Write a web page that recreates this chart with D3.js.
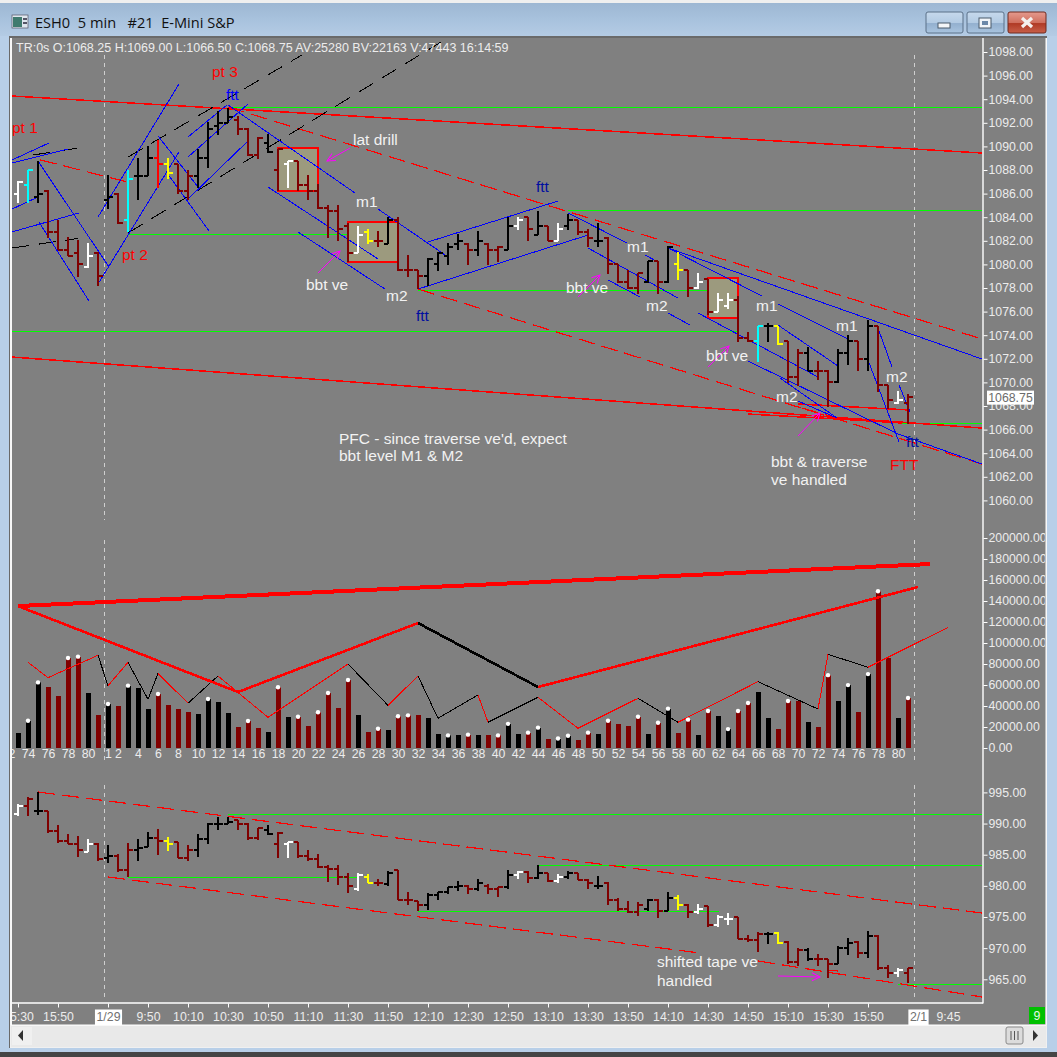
<!DOCTYPE html>
<html><head><meta charset="utf-8">
<script src="https://cdn.jsdelivr.net/npm/d3@7"></script>
<style>html,body{margin:0;padding:0;background:#444;overflow:hidden}svg{display:block}</style>
</head><body><svg id="c" width="1057" height="1057"></svg>
<script>
// ---------- Upper panel: price bars (first bar is #73 of the previous session)
const barColors = ["w","c","k","d","d","d","d","w","d","k","d","c","k","k","r","y","d","d","k","k","k","k","d","d","d","k","d","w","d","d","d","d","d","d",
"w","y","d","k","d","d","d","k","k","k","k","d","k","d","d","k","w","d","k","d","w","k","d","d","k","d","d","d","d","k","d","k","y",
"d","w","d","w","w","d","d","c","k","y","d","d","k","d","d","k","k","d","k","d","d","w","d"];
const priceOpen = [1086,1086.75,1085.75,1086.25,1082.75,1081.25,1081,1079.75,1081,1085.5,1086,1083.75,1087.5,1087.5,1089,1088.5,1088.5,1086.25,1087.5,1089,1091.75,1092,1092.25,1091.5,1089.25,1090.25,1088,1088.5,1088.75,1086.75,1086.25,1084.75,1084.5,1083.25,
1081,1082.75,1082,1081.75,1083.75,1079.5,1079.5,1079,1080,1080.75,1081.75,1081.75,1081.25,1081.75,1081.25,1081.25,1083.25,1084,1082.5,1083.25,1082,1083.25,1083.75,1082.75,1082,1082.25,1080,1078.5,1078,1078.5,1080.25,1078.5,1080,
1079.5,1078,1078.75,1076,1076.5,1077,1073.75,1073.5,1074.75,1074.75,1073.5,1070.5,1072.5,1071,1071,1070,1072.5,1073.5,1072,1074.75,1069.75,1068.25,1068.25];
const priceHigh = [1087,1088,1088.75,1086.25,1083.75,1082.25,1082,1081.75,1081,1087.5,1086,1088,1089,1090,1090.5,1089,1088.5,1088,1089.75,1092,1093,1093.25,1092.5,1091.5,1090.75,1091,1089.75,1088.75,1088.75,1087.5,1086.75,1085,1085,1083.5,
1083.25,1083,1082.75,1084,1084,1080.75,1079.5,1080.5,1081,1081.75,1082.5,1081.75,1082.75,1081.75,1081.5,1084,1084,1084,1084.5,1083.25,1083.5,1084.25,1083.75,1083,1083.5,1082.25,1080,1079.5,1079.25,1080.25,1080.25,1081.5,1081,
1079.5,1079.25,1078.75,1077.5,1077.5,1077.25,1074.25,1074.75,1075,1074.75,1073.5,1072.75,1073,1071.75,1071,1072.75,1074,1073.5,1075.25,1074.75,1069.75,1069.25,1069];
const priceLow = [1085.25,1085.25,1085.25,1082.25,1081.25,1080.75,1079,1079.75,1078.25,1084.75,1083.5,1082.75,1085.5,1087.5,1086.5,1087.25,1086,1085.5,1086.5,1088.25,1091,1092,1091,1089.25,1089,1089.5,1086.25,1086.5,1086.25,1085.5,1084.75,1082.25,1082,1080.25,
1081,1081.75,1081.5,1081.75,1079.5,1079,1078,1078.25,1079.5,1080,1081.25,1080,1080.75,1080,1080.25,1081.25,1083,1082,1082.5,1082,1082,1083,1082.5,1081.5,1081.5,1079.25,1078.5,1078,1077.5,1078.5,1077.5,1078.5,1078.75,
1077.25,1078,1075.75,1076,1076.25,1073.5,1073.5,1071.75,1073.5,1073.25,1070,1069.75,1071,1070.25,1068,1070,1071.5,1071,1071,1069.25,1067.75,1068.25,1066.5];
const priceClose = [1087,1088,1086,1082.75,1081.25,1080.75,1080,1080.75,1079,1085.75,1083.5,1087.25,1087.5,1089,1088.5,1087.75,1086.25,1087.5,1089,1091.5,1092,1092.5,1091.5,1089.25,1090.75,1089.5,1089.75,1088.75,1086.75,1086.25,1084.75,1084.5,1083,1081,
1082.5,1082,1082,1083.75,1079.5,1079.5,1079,1080.5,1081,1081.5,1082,1081.25,1082,1081.25,1081.5,1083.25,1083.75,1083,1083.25,1082,1083,1083.75,1082.75,1082.25,1082,1080,1078.5,1078,1079.25,1080.25,1078.5,1081.5,1079.5,
1078,1078.5,1076,1077,1077,1073.75,1073.5,1074.75,1074.75,1073.25,1070.5,1072.5,1071,1071,1070,1072.5,1073.5,1072,1074.75,1069.75,1068.5,1068.5,1068.75];

// ---------- Middle panel: volume
const volume = [14600,26000,62500,57800,49800,85700,87000,52700,31700,41900,40300,59400,57500,37500,51400,41300,37500,34600,32700,46700,44100,33700,20300,25700,19400,15600,57800,29800,29800,21300,34000,52400,38400,64800,
31100,15000,18400,17000,30200,31100,31100,28900,13000,12000,12000,12700,12000,12000,12000,23000,13000,14600,19400,9000,9000,11700,7500,14600,13000,26000,23000,21300,29800,13000,24100,37500,14600,27000,12000,
35200,30400,18000,35200,42800,53300,28500,18000,44700,44700,24700,20000,69400,44700,59900,34200,70400,149300,85600,28500,47600];
const volumeColors = ["k","k","k","d","d","d","d","k","d","k","d","k","k","k","d","d","d","d","k","k","k","k","d","d","d","k","d","k","d","d","d","d","d","d",
"k","d","d","k","d","d","d","k","k","k","k","d","k","d","d","k","k","d","k","d","k","k","d","d","k","d","d","d","d","k","d","k","d","d","k",
"d","k","k","d","d","k","k","d","d","d","k","d","d","k","k","d","k","d","d","k","d"];
const volumeDots = [1,2,5,6,9,11,14,19,23,26,28,30,31,33,36,38,39,43,45,48,49,51,52,54,55,57,59,62,64,65,67,69,71,72,73,77,81,83,85,86,89];
const volSwingBars = [1,3,8,9,11,13,14,17,20,25,33,37,40,42,46,47,52,56,62,66,74,80,81,85,93];
const volSwingVals = [81600,67000,88300,59300,81600,46400,71100,42600,68600,29200,80000,40600,68600,28300,50500,24500,48300,18800,47300,24500,63200,37100,89200,76900,114900];
const volSwingColors = ["r","r","k","r","k","k","r","k","r","r","k","r","k","k","r","k","r","r","k","r","k","r","k","r"];
const volTrendBars = [[0,91.2],[0,22],[22,40],[40,52],[52,90]];
const volTrendVals = [[135200,175200],[135200,53300],[53300,119000],[119000,58100],[58100,153300]];
const volTrendColors = ["r","r","r","k","r"];
const volTrendWidths = [4,2.6,2.6,2.6,2.6];

// ---------- Lower panel: shifted tape
const tapeColors = ["w","d","k","d","d","d","d","w","d","k","d","d","k","k","d","y","d","d","k","k","k","k","d","d","d","k","d","w","d","d","d","d","d","d",
"w","y","d","k","d","d","d","k","k","k","k","d","k","d","d","k","w","d","k","d","w","k","d","d","k","d","d","d","d","k","d","k","y",
"d","w","d","w","w","d","d","d","k","y","d","d","k","d","d","k","k","d","k","d","d","w","d"];
const tapeOpen = [991.5,992.75,992,992,988.75,987.25,986.75,985.5,986.75,984.5,984.75,982.5,985.75,986.25,987.75,987.25,987,984.5,985.75,987.5,990,990,990.5,990,987.75,989,986.75,986.75,987,984.75,984.25,983,982.75,981.5,
979.5,981.5,980.5,980.25,982.5,977.75,977.5,977,978.5,979,979.75,980,979.5,980,979.5,979.75,981.75,982.25,981.25,982,980.75,981.5,982,981,980,980.5,977.75,976.25,975.75,976.25,977.75,976,978,
977,975.75,976.75,973.75,974.75,975,971.5,971.25,972.25,972.5,971,967.75,969.75,968.25,968.25,967.5,970,971,969.25,972,966.75,966,966];
const tapeHigh = [993,994.25,995,992,989.75,988.25,988,987.5,986.75,986.5,985,986.75,987.5,988.5,989,987.75,987,986.5,988.25,990,991,991,990.5,990,989.25,989.75,988.5,987,987,985.75,985,983.25,983.25,982,
982,981.75,981,982.25,982.5,979,977.5,978.75,979,979.75,980.75,980,981,980.25,979.75,982.5,982.25,982.25,983.25,982,981.75,982.25,982,981,981.5,980.5,978,977.5,977.25,977.75,977.75,979,978.5,
977,977,976.75,975.25,975.5,975,972,972.5,972.5,972.5,971,970,970,969,968.25,970.25,971.5,971,972.75,972,967.25,966.75,966.75];
const tapeLow = [991.25,991.25,991.5,988.5,987,986.75,984.75,985.5,984,983.75,982.25,981.5,984,986.25,985,985.75,984.5,984,984.75,986.75,989,990,989,987.5,987.5,988.25,984.5,984.5,984.5,984,983,980.75,980.25,979,
979.25,980.5,980,980,977.75,977,976,976.25,977.75,978.75,979.25,978.75,979.25,978.75,978.25,979.5,981.25,980.5,981.25,980.75,980.5,981.25,981,979.5,979.5,977,976,975.75,975.25,976,975,976,976.25,
975,975.5,973.5,973.5,973.75,971.5,971,969.5,970.75,970.75,967.5,967.25,968,967.25,965.25,967.5,969,968.5,968.5,966.5,965.25,965.5,964.5];
const tapeClose = [992.75,994,992,988.75,987.25,986.75,985.75,986.75,984.25,984.75,982.5,985.75,986,987.75,987.25,986.75,984.5,985.75,987.5,990,990,990.25,990,987.75,989.25,988.25,988.5,987,984.75,984.25,983,982.75,981.5,980,
981.75,980.5,980.5,982,977.75,977.75,977,978.5,979,979.75,980,979.5,980.5,979.5,979.75,981.75,982.25,981.25,982,980.75,981.5,982,981,980.5,980,977.75,976.25,975.75,977,977.75,976,978,977,
975.75,976.25,973.75,975,974.75,971.5,971.25,972.25,972.25,970.75,967.75,969.75,968.25,968.25,967.5,970,970.75,969.25,972,966.75,966,966.5,966.75];

// ---------- Axis labels
const priceTicks = d3.range(1060,1099,2);
const volumeTicks = d3.range(0,200001,20000);
const tapeTicks = [965,970,975,980,985,990,995];
const timeBars = [0,4,9,13,17,21,25,29,33,37,41,45,49,53,57,61,65,69,73,77,81,85,90,93];
const timeLabels = ["15:30","15:50","1/29","9:50","10:10","10:30","10:50","11:10","11:30","11:50","12:10","12:30","12:50","13:10","13:30","13:50","14:10","14:30","14:50","15:10","15:30","15:50","2/1","9:45"];
const barNoBars = [-1,1,3,5,7,9,10].concat(d3.range(12,89,2));
const barNoLabels = ["72","74","76","78","80","1","2"].concat(d3.range(4,81,2).map(String));

// ---------- Trend lines on the price panel: [bar, price, bar, price]
const blueLines = [[-.6,1088.85,3.1,1090.29],[-.6,1088.59,5,1089.78],[-.6,1084.69,2,1085.71],[-.6,1082.75,6.1,1084.36],[2,1088.76,9.1,1079.78],[2.1,1083.59,7.1,1076.9],[8,1084.02,16.1,1095.29],[8,1078.34,16.1,1089.53],[14,1090.88,18,1086.56],[14.9,1087.75,19.1,1082.83],[17,1090.8,20.9,1093.51],[17,1089.1,23,1093.59],[17,1085.54,23.1,1090.54],[21,1093.51,33.7,1086.05],[36,1084.69,43,1080.63],[25,1086.56,36,1080.46],[28,1082.75,36.7,1077.91],[41,1081.9,54,1085.37],[40,1077.91,57,1082.49],[55,1084.36,60.9,1081.81],[62.7,1080.8,64,1080.2],[57,1081.39,66,1077.15],[59,1078.68,62.2,1077.24],[65,1075.88,67.2,1074.86],[65,1081.39,96.4,1071.98],[65,1081.39,74.4,1077.32],[76,1076.64,83,1073.68],[68,1075.88,80,1070.46],[73,1071.81,88,1065.63],[88,1065.63,96.4,1063.08],[76,1074.86,82,1071.39],[78,1068.42,81.9,1066.98],[76.2,1070.37,81.9,1066.98],[85,1071.9,88.1,1064.95],[86,1074.61,87.4,1071.3],[88.1,1069.78,89.2,1067.49]];
const redSolid = [[-.6,1094.27,96.4,1089.44],[-.6,1072.15,96.4,1066.13],[73,1067.32,81.9,1066.9],[78,1068.17,89.2,1067.66],[81.9,1066.9,88.4,1066.56]];
const redDashed = [[2.2,1088.85,11,1086.98],[21,1093.34,96.4,1073.68],[40,1077.91,96.4,1063.08],[78.4,1067.83,81.9,1066.98]];
const blackDashed = [[11,1082.66,42.3,1098.85],[11,1089.1,28.4,1097.75],[-.6,1081.39,6,1082.2],[1.5,1089.27,6,1089.86]];
const greenLines = [[21,1093.3,96.4,1093.3],[11,1082.53,33,1082.53],[40,1077.79,69,1077.79],[55,1084.57,96.4,1084.57],[-.6,1074.31,72,1074.31],[88.4,1066.52,96.4,1066.52]];
const tanBoxes = [[26,1089.86,30,1086.22],[33,1083.59,38,1080.2],[69,1078.85,72,1075.46]];
const priceArrows = [[33.2,1089.86,30.9,1088.76],[30,1079.27,32.2,1081.14],[56,1077.24,58.2,1079.1],[69,1071.3,71.1,1073.08],[78,1065.46,80.2,1067.41]];

// ---------- Trend lines on the tape panel
const tapeRed = [[2,995.06,96.4,975.64],[9,981.42,68.2,969.22],[74,967.94,96.4,962.16],[81,966.49,82,966.33]];
const tapeGreen = [[21,991.45,96.4,991.45],[11,981.34,34,981.34],[40,975.88,70.1,975.88],[52,983.27,96.4,983.27],[88,964.17,96.4,964.17]];
const tapeArrows = [[76,965.53,80.2,965.37]];

// ---------- Notes: [text, bar, price, colour]
const priceNotes = [["pt 1",-.6,1091.15,"r"],["pt 3",19.4,1095.9,"r"],["pt 2",10.4,1080.37,"r"],["ftt",20.8,1093.93,"b"],["lat drill",33.5,1090.1,"w"],["m1",33.8,1084.86,"w"],["bbt ve",28.8,1077.85,"w"],["m2",36.8,1076.9,"w"],["ftt",39.8,1075.2,"n"],["ftt",51.8,1086.15,"n"],["m1",60.9,1081.05,"w"],["bbt ve",54.8,1077.58,"w"],["m2",62.8,1076.05,"w"],["m1",73.8,1076.05,"w"],["bbt ve",68.8,1071.8,"w"],["m1",81.8,1074.35,"w"],["m2",86.8,1070.05,"w"],["m2",75.8,1068.35,"w"],["ftt",88.8,1064.5,"n"],["FTT",87.2,1062.57,"r"],["bbt & traverse",75.3,1062.83,"w"],["ve handled",75.3,1061.3,"w"],["PFC - since traverse ve'd, expect",32.1,1064.78,"w"],["bbt level M1 & M2",32.1,1063.34,"w"]];
const tapeNotes = [["shifted tape ve",63.9,966.97,"w"],["handled",63.9,963.92,"w"]];

const LAST_CLOSE = 1068.75;
const INFO = "TR:0s O:1068.25 H:1069.00 L:1066.50 C:1068.75 AV:25280 BV:22163 V:47443 16:14:59";
const TITLE = "ESH0  5 min   #21  E-Mini S&P";

// ---------- Scales
const x = d3.scaleLinear().domain([0,90]).range([18,918]);
const yP = d3.scaleLinear().domain([1098,1060]).range([52,500.4]);
const yV = d3.scaleLinear().domain([0,200000]).range([748,538]);
const yT = d3.scaleLinear().domain([995,965]).range([792.4,979.3]);
const col = {k:"#000",d:"#800000",w:"#fff",c:"#00ffff",y:"#ffff00",r:"#ff0000",b:"#0000ff",n:"#000fa0"};
const FONT = "'Liberation Sans',Arial,sans-serif";
const TXT = "#ececec";

const svg = d3.select("#c").style("font-family",FONT);
const defs = svg.append("defs");
const grad = (id,stops)=>{const g=defs.append("linearGradient").attr("id",id).attr("x1",0).attr("x2",0).attr("y1",0).attr("y2",1);
  stops.forEach(([o,c])=>g.append("stop").attr("offset",o).attr("stop-color",c));};
grad("tb",[[0,"#9db7d3"],[.55,"#a9c3de"],[1,"#b4cbe4"]]);
grad("btn",[[0,"#c6d9ec"],[.5,"#b3cbe3"],[.55,"#93b0cf"],[1,"#a9c4df"]]);
grad("cls",[[0,"#e59a8e"],[.5,"#d0705f"],[.55,"#b03a25"],[1,"#c8604a"]]);
defs.append("clipPath").attr("id","plot").append("rect").attr("x",12).attr("y",38).attr("width",971).attr("height",965);
defs.append("clipPath").attr("id","outer").append("rect").attr("x",12).attr("y",38).attr("width",1033).attr("height",987);
const ah = defs.append("marker").attr("id","arrow").attr("markerUnits","userSpaceOnUse").attr("markerWidth",12).attr("markerHeight",12).attr("refX",9).attr("refY",5).attr("orient","auto");
ah.append("path").attr("d","M1,1L9,5L1,9").attr("fill","none").attr("stroke","#ff00ff").attr("stroke-width",1);

// ---------- Window chrome
svg.append("rect").attr("width",1057).attr("height",1057).attr("fill","#b8cfe8");
svg.append("rect").attr("width",1057).attr("height",3).attr("fill","#efefef");
svg.append("rect").attr("y",3).attr("width",1057).attr("height",33).attr("fill","url(#tb)");
svg.append("rect").attr("y",1052).attr("width",1057).attr("height",5).attr("fill","#454545");
svg.append("rect").attr("x",9).attr("y",36).attr("width",1038).attr("height",1012).attr("fill","#f0f0f0");
svg.append("rect").attr("x",9).attr("y",36).attr("width",1038).attr("height",2).attr("fill","#6a6a6a");
svg.append("rect").attr("x",9).attr("y",36).attr("width",1).attr("height",1012).attr("fill","#6a6a6a");
svg.append("rect").attr("x",12).attr("y",38).attr("width",1034).attr("height",987).attr("fill","#808080");
// icon
svg.append("rect").attr("x",12).attr("y",15).attr("width",16).attr("height",13).attr("fill","#dfe6ee").attr("stroke","#556").attr("stroke-width",.7);
svg.append("rect").attr("x",13).attr("y",17).attr("width",9).attr("height",10).attr("fill","#3f7a6e");
svg.append("rect").attr("x",23).attr("y",18).attr("width",4).attr("height",2).attr("fill","#556");
svg.append("rect").attr("x",23).attr("y",22).attr("width",4).attr("height",2).attr("fill","#556");
svg.append("text").attr("x",35).attr("y",28).style("white-space","pre")
  .attr("font-family","'Open Sans','Noto Sans',sans-serif").attr("font-size",14.6).attr("fill","#111").text(TITLE);
// window buttons
[[926,37,"url(#btn)","#5a7088"],[967,37,"url(#btn)","#5a7088"],[1008,38,"url(#cls)","#6e2a20"]].forEach(([bx,w,f,s])=>
  svg.append("rect").attr("x",bx).attr("y",12).attr("width",w).attr("height",21).attr("rx",2).attr("fill",f).attr("stroke",s));
svg.append("rect").attr("x",938).attr("y",23).attr("width",12).attr("height",5).attr("fill","#f4f6f8").attr("stroke","#4a5a6a");
svg.append("rect").attr("x",979).attr("y",18).attr("width",12).attr("height",10).attr("fill","#f0f4f8").attr("stroke","#4a5a6a");
svg.append("rect").attr("x",982).attr("y",21).attr("width",6).attr("height",4).attr("fill","#6b88a8");
svg.append("path").attr("d","M1022,18L1032,27M1032,18L1022,27").attr("stroke","#f4f0ee").attr("stroke-width",3.2);
// scrollbar
svg.append("rect").attr("x",11).attr("y",1026).attr("width",1035).attr("height",21).attr("fill","#e9e9e9");
svg.append("rect").attr("x",12).attr("y",1027).attr("width",20).attr("height",18).attr("fill","#f0f0f0");
svg.append("path").attr("d","M23,1030L18,1035.5L23,1041Z").attr("fill","#333");
svg.append("rect").attr("x",1006).attr("y",1027).attr("width",17).attr("height",17).attr("rx",2).attr("fill","#dcdcdc").attr("stroke","#8a8a8a");
svg.append("path").attr("d","M1011,1031V1040M1014.5,1031V1040M1018,1031V1040").attr("stroke","#555");
svg.append("path").attr("d","M1033,1030L1038,1035.5L1033,1041Z").attr("fill","#333");

// ---------- Plot furniture
const plot = svg.append("g").attr("clip-path","url(#plot)");
const marks = plot.append("g").attr("shape-rendering","crispEdges");
const sepX = [8.65,89.6];
const sepY = [[55,520],[540,760],[785,1000]];
sepX.forEach(b=>sepY.forEach(([a,e])=>marks.append("line").attr("x1",x(b)).attr("x2",x(b)).attr("y1",a).attr("y2",e)
  .attr("stroke","#cfcfcf").attr("stroke-dasharray","4 4")));

const drawLines = (g,data,sy,color,w,dash)=>g.append("g").selectAll("line").data(data).join("line")
  .attr("x1",d=>x(d[0])).attr("y1",d=>sy(d[1])).attr("x2",d=>x(d[2])).attr("y2",d=>sy(d[3]))
  .attr("stroke",color).attr("stroke-width",w).attr("stroke-dasharray",dash||null);

// tan boxes
marks.append("g").selectAll("rect").data(tanBoxes).join("rect")
  .attr("x",d=>x(d[0])).attr("y",d=>yP(d[1])).attr("width",d=>x(d[2])-x(d[0])).attr("height",d=>yP(d[3])-yP(d[1]))
  .attr("fill","#9c9a7e").attr("stroke","#ff0000").attr("stroke-width",2);

drawLines(marks,greenLines,yP,"#00ff00",1);
drawLines(marks,redSolid,yP,"#ff0000",1.5);
drawLines(marks,redDashed,yP,"#ff0000",1.2,"17 7");
drawLines(marks,blackDashed,yP,"#000",1,"17 10");
drawLines(marks,blueLines,yP,"#0000ff",1);

drawLines(marks,tapeGreen,yT,"#00ff00",1);
drawLines(marks,tapeRed,yT,"#ff0000",1.2,"17 7");

const drawBars = (g,O,H,L,C,sy,colors)=>{
  const d = O.map((o,i)=>({i,o,h:H[i],l:L[i],c:C[i],k:col[colors[i]]}));
  const b = g.append("g").selectAll("g").data(d).join("g").attr("stroke",e=>e.k).attr("stroke-width",2);
  b.append("line").attr("x1",e=>x(e.i)).attr("x2",e=>x(e.i)).attr("y1",e=>sy(e.h)-.5).attr("y2",e=>sy(e.l)+.5);
  b.append("line").attr("x1",e=>x(e.i)-4.5).attr("x2",e=>x(e.i)).attr("y1",e=>sy(e.o)).attr("y2",e=>sy(e.o));
  b.append("line").attr("x1",e=>x(e.i)).attr("x2",e=>x(e.i)+4.5).attr("y1",e=>sy(e.c)).attr("y2",e=>sy(e.c));
};
drawBars(marks,priceOpen,priceHigh,priceLow,priceClose,yP,barColors);
drawBars(marks,tapeOpen,tapeHigh,tapeLow,tapeClose,yT,tapeColors);

// arrows
const drawArrows=(data,sy)=>plot.append("g").selectAll("line").data(data).join("line")
  .attr("x1",d=>x(d[0])).attr("y1",d=>sy(d[1])).attr("x2",d=>x(d[2])).attr("y2",d=>sy(d[3]))
  .attr("stroke","#ff00ff").attr("stroke-width",1).attr("marker-end","url(#arrow)");
drawArrows(priceArrows,yP);
drawArrows(tapeArrows,yT);

// ---------- Volume
marks.append("g").selectAll("rect").data(volume).join("rect")
  .attr("x",(d,i)=>x(i)-2.5).attr("width",5).attr("y",d=>yV(d)).attr("height",d=>yV(0)-yV(d))
  .attr("fill",(d,i)=>col[volumeColors[i]]);
marks.append("g").selectAll("line").data(volSwingColors).join("line")
  .attr("x1",(d,i)=>x(volSwingBars[i])).attr("y1",(d,i)=>yV(volSwingVals[i]))
  .attr("x2",(d,i)=>x(volSwingBars[i+1])).attr("y2",(d,i)=>yV(volSwingVals[i+1]))
  .attr("stroke",d=>col[d]).attr("stroke-width",1);
marks.append("g").selectAll("line").data(volTrendColors).join("line")
  .attr("x1",(d,i)=>x(volTrendBars[i][0])).attr("y1",(d,i)=>yV(volTrendVals[i][0]))
  .attr("x2",(d,i)=>x(volTrendBars[i][1])).attr("y2",(d,i)=>yV(volTrendVals[i][1]))
  .attr("stroke",d=>col[d]).attr("stroke-width",(d,i)=>volTrendWidths[i]);
plot.append("g").selectAll("circle").data(volumeDots).join("circle")
  .attr("cx",i=>x(i)).attr("cy",i=>yV(volume[i])).attr("r",2.2).attr("fill","#fff");

// ---------- Notes
const notes=(data,sy)=>plot.append("g").selectAll("text").data(data).join("text")
  .attr("x",d=>x(d[1])).attr("y",d=>sy(d[2])).attr("font-size",15.5).attr("fill",d=>d[3]==="w"?"#f2f2f2":col[d[3]]).text(d=>d[0]);
notes(priceNotes,yP);
notes(tapeNotes,yT);
svg.append("text").attr("x",16).attr("y",52).attr("font-size",12.5).attr("fill",TXT).text(INFO);

// ---------- Axes
const outer = svg.append("g").attr("clip-path","url(#outer)");
outer.append("line").attr("x1",983).attr("x2",983).attr("y1",38).attr("y2",1003.5).attr("stroke","#fff").attr("stroke-width",1.4);
outer.append("line").attr("x1",12).attr("x2",983).attr("y1",1003).attr("y2",1003).attr("stroke","#fff").attr("stroke-width",1.4);
svg.append("line").attr("x1",11).attr("x2",11).attr("y1",38).attr("y2",1025).attr("stroke","#fff");
svg.append("line").attr("x1",11).attr("x2",1046).attr("y1",1025).attr("y2",1025).attr("stroke","#fff");
svg.append("line").attr("x1",1046).attr("x2",1046).attr("y1",38).attr("y2",1025).attr("stroke","#fff");

const style=(g)=>{g.select(".domain").remove();
  g.selectAll("text").attr("fill",TXT).attr("font-size",12.3).attr("font-family",FONT);
  g.selectAll("line").attr("stroke","#fff");};
const fmt = d=>d.toFixed(2);
outer.append("g").attr("transform","translate(983.5,0)").call(d3.axisRight(yP).tickValues(priceTicks).tickSize(4).tickPadding(1).tickFormat(fmt)).call(style);
outer.append("g").attr("transform","translate(983.5,0)").call(d3.axisRight(yV).tickValues(volumeTicks).tickSize(4).tickPadding(1).tickFormat(fmt)).call(style);
outer.append("g").attr("transform","translate(983.5,0)").call(d3.axisRight(yT).tickValues(tapeTicks).tickSize(4).tickPadding(1).tickFormat(fmt)).call(style);

// bar-number axis under the volume panel
plot.append("g").attr("transform","translate(0,748)").call(d3.axisBottom(x).tickValues(barNoBars).tickSize(0).tickPadding(1)
  .tickFormat((d,i)=>barNoLabels[i])).call(style);

// time axis
const timeAxis = outer.append("g").attr("transform","translate(0,1003.5)")
  .call(d3.axisBottom(x).tickValues(timeBars).tickSize(4).tickPadding(5).tickFormat((d,i)=>timeLabels[i])).call(style);
timeAxis.selectAll(".tick").filter(d=>d>=90).select("line").remove();
timeAxis.selectAll(".tick").filter((d,i)=>/\//.test(timeLabels[i])).each(function(){
  const t=d3.select(this), tx=t.select("text");
  const w=tx.node().getBBox().width;
  t.insert("rect","text").attr("x",-w/2-1.5).attr("y",6).attr("width",w+3).attr("height",17).attr("fill","#fff");
  tx.attr("fill","#707070");
});

// last-price tag
outer.append("rect").attr("x",987).attr("y",yP(LAST_CLOSE)-6.5).attr("width",47).attr("height",14).attr("fill","#fff");
outer.append("text").attr("x",1010.5).attr("y",yP(LAST_CLOSE)+4.5).attr("text-anchor","middle").attr("font-size",12.3).attr("fill","#6c6c6c").text(fmt(LAST_CLOSE));

// status cell
svg.append("rect").attr("x",1029).attr("y",1007).attr("width",16).attr("height",17).attr("fill","#00c000");
svg.append("text").attr("x",1037).attr("y",1020).attr("text-anchor","middle").attr("font-size",12.3).attr("fill","#e8f8e8").text("9");
</script></body></html>
